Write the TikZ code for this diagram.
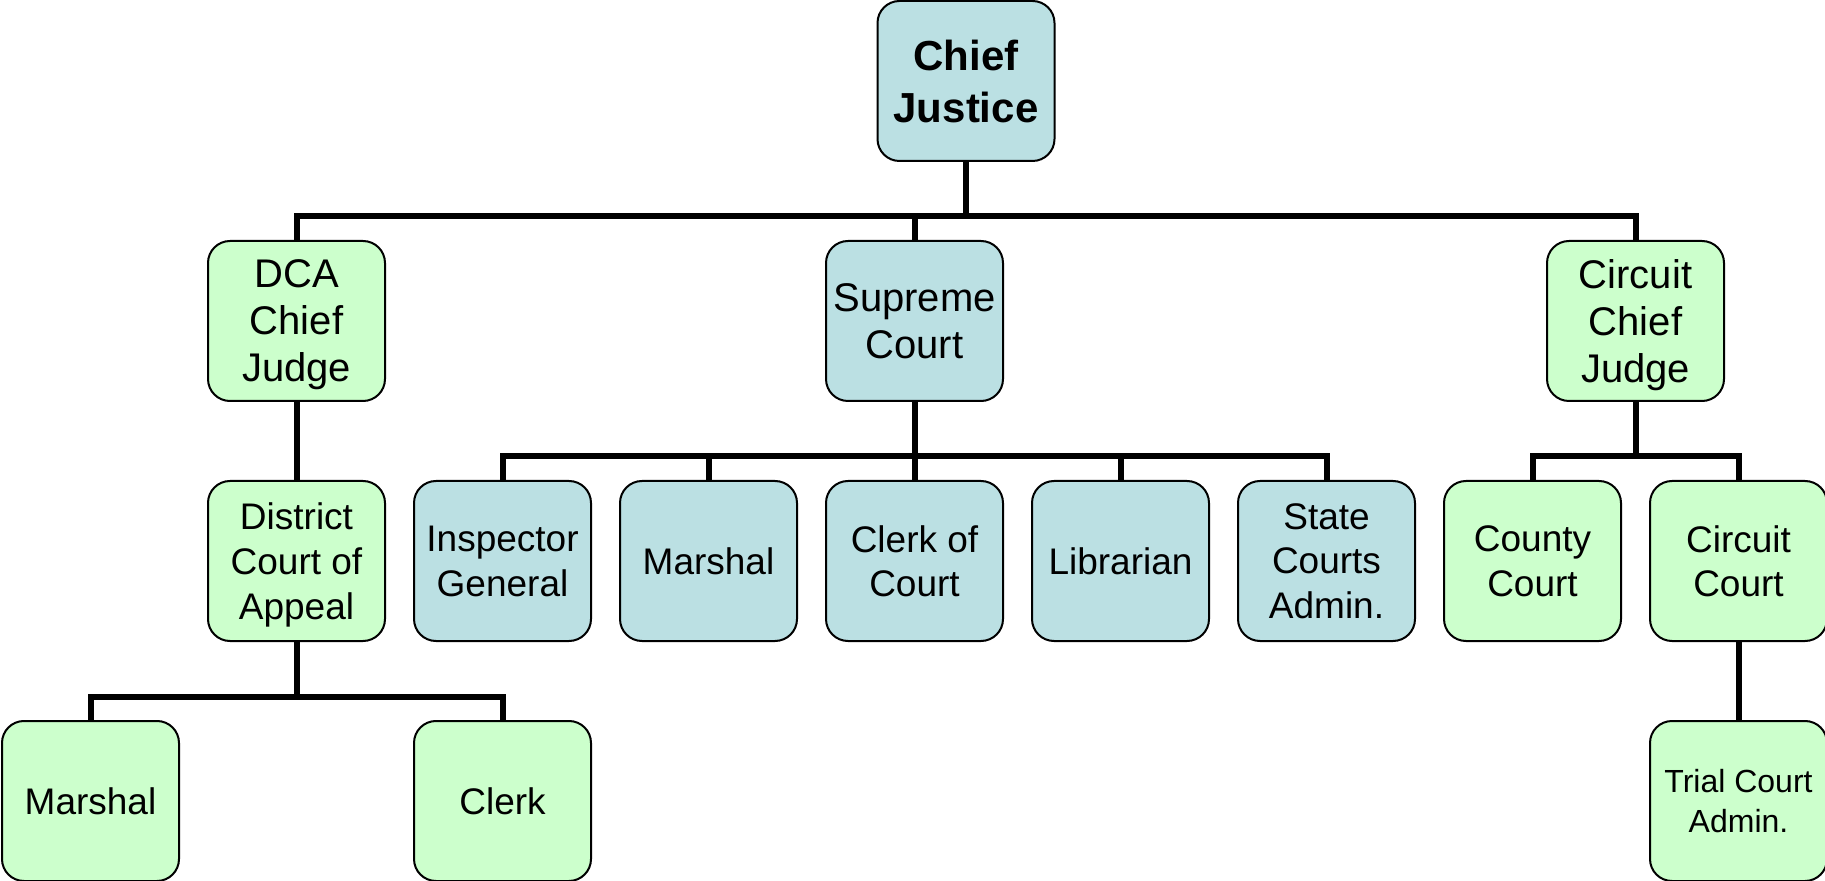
\documentclass[tikz,border=0pt]{standalone}
\usepackage{fontspec}
\setmainfont{Liberation Sans}
\usetikzlibrary{
    positioning,
    calc
}

\definecolor{courtblue}{HTML}{BBE0E3}
\definecolor{courtgreen}{HTML}{CCFFCC}

\begin{document}
\begin{tikzpicture}[
    x=0.5pt, y=-0.5pt,
    box/.style={
      draw,
      line width=1pt,
      rounded corners=11pt,
      minimum width=88.5pt,
      minimum height=80pt,
      inner sep=2pt,
      text depth=0pt,
      align=center
    },
    bluebox/.style={box, fill=courtblue},
    greenbox/.style={box, fill=courtgreen},
    toptext/.style={font=\fontsize{21}{26}\selectfont\bfseries},
    midtext/.style={font=\fontsize{20}{23.5}\selectfont},
    lowtext/.style={font=\fontsize{18.5}{22.4}\selectfont},
    smalltext/.style={font=\fontsize{16}{20}\selectfont},
    link/.style={line width=3pt}
  ]

  \useasboundingbox (0,0) rectangle (1825,881);

  % level 1 {{{
  \node[bluebox, toptext] (cj) at (966,81) {Chief\\Justice};
  % }}}

  % level 2 {{{
  \node[greenbox, midtext] (dca) at (296.5,321) {DCA\\Chief\\Judge};
  \node[bluebox, midtext] (sc) at (914.5,321) {Supreme\\Court};
  \node[greenbox, midtext] (ccj) at (1635.5,321) {Circuit\\Chief\\Judge};
  % }}}

  % level 3 {{{
  \node[greenbox, lowtext] (dcoa) at (296.5,561) {District\\Court of\\Appeal};
  \node[bluebox, lowtext] (ig) at (502.5,561) {Inspector\\General};
  \node[bluebox, lowtext] (scmarshal) at (708.5,561) {Marshal};
  \node[bluebox, lowtext] (clerkcourt) at (914.5,561) {Clerk of\\Court};
  \node[bluebox, lowtext] (librarian) at (1120.5,561) {Librarian};
  \node[bluebox, lowtext] (sca) at (1326.5,561) {State\\Courts\\Admin.};
  \node[greenbox, lowtext] (county) at (1532.5,561) {County\\Court};
  \node[greenbox, lowtext] (circuit) at (1738.5,561) {Circuit\\Court};
  % }}}

  % level 4 {{{
  \node[greenbox, lowtext] (dcamarshal) at (90.5,801) {Marshal};
  \node[greenbox, lowtext] (dcaclerk) at (502.5,801) {Clerk};
  \node[greenbox, smalltext] (tca) at (1738.5,801) {Trial Court\\Admin.};
  % }}}

  % junctions
  \coordinate (j1) at (966,216);
  \coordinate (j2) at (914.5,456);
  \coordinate (j3) at (1635.5,456);
  \coordinate (j4) at (296.5,697);

  % connectors {{{
  \draw[link] (cj.south) -- (j1);
  \draw[link] (dca.north) |- (j1) -| (ccj.north);
  \draw[link] (sc.north) -- (sc.north |- j1);

  \draw[link] (sc.south) -- (j2);
  \draw[link] (ig.north) |- (j2) -| (sca.north);
  \draw[link] (scmarshal.north) -- (scmarshal.north |- j2);
  \draw[link] (clerkcourt.north) -- (j2);
  \draw[link] (librarian.north) -- (librarian.north |- j2);

  \draw[link] (ccj.south) -- (j3);
  \draw[link] (county.north) |- (j3) -| (circuit.north);

  \draw[link] (dca.south) -- (dcoa.north);
  \draw[link] (dcoa.south) -- (j4);
  \draw[link] (dcamarshal.north) |- (j4) -| (dcaclerk.north);

  \draw[link] (circuit.south) -- (tca.north);
  % }}}

\end{tikzpicture}
\end{document}
